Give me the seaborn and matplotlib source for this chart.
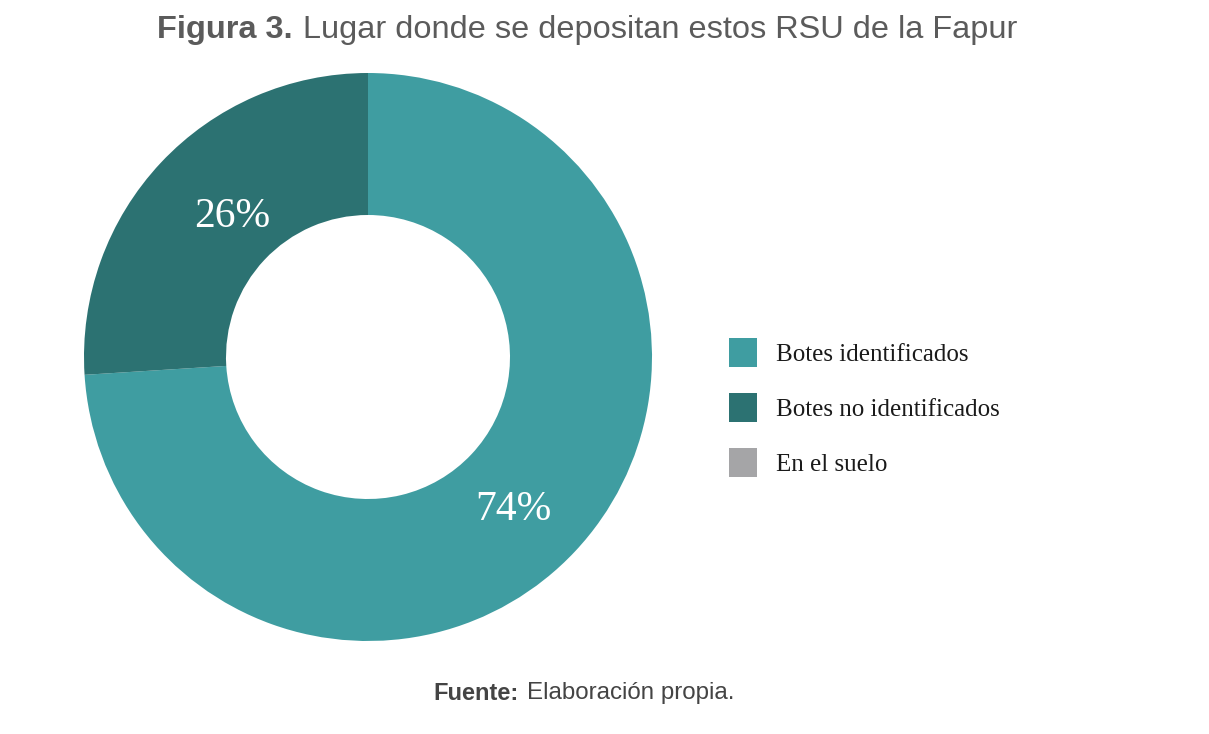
import matplotlib
matplotlib.use("Agg")
import numpy as np
import matplotlib.pyplot as plt
import seaborn as sns

# datos de la figura
categorias = ["Botes identificados", "Botes no identificados", "En el suelo"]
porcentajes = [74, 26, 0]
colores = ["#3f9da1", "#2c7272", "#a5a5a7"]

titulo_negrita = "Figura 3."
titulo_resto = "Lugar donde se depositan estos RSU de la Fapur"
fuente_negrita = "Fuente:"
fuente_resto = "Elaboración propia."

sns.set_theme(style="white")
plt.rcParams["font.family"] = ["Liberation Sans", "DejaVu Sans"]

fig = plt.figure(figsize=(12.09, 7.34), dpi=100)
fig.patch.set_facecolor("white")

# ejes cuadrados para la dona
W, H = 1209, 734
cx, cy, r = 368, 357, 284
ax = fig.add_axes([(cx - r) / W, (H - cy - r) / H, 2 * r / W, 2 * r / H])

pal = sns.color_palette(colores)
wedges, textos, autotextos = ax.pie(
    porcentajes, colors=pal, startangle=90, counterclock=False,
    radius=1, wedgeprops=dict(width=0.5, linewidth=0),
    autopct=lambda p: f"{p:.0f}%" if p > 0.5 else "",
    pctdistance=0.715,
)
# las etiquetas van un poco giradas y desplazadas respecto al centro del sector
giro = np.deg2rad(-3.0)
dx, dy = 5 / r, -6.5 / r
for t in autotextos:
    t.set_color("white")
    t.set_fontsize(30)
    t.set_family(["Liberation Serif", "DejaVu Serif"])
    x, y = t.get_position()
    t.set_position((x * np.cos(giro) - y * np.sin(giro) + dx,
                    x * np.sin(giro) + y * np.cos(giro) + dy))
ax.set_xlim(-1, 1)
ax.set_ylim(-1, 1)
ax.set_aspect("equal")
ax.axis("off")

# leyenda
leg = fig.legend(
    wedges, categorias, loc="upper left",
    bbox_to_anchor=(729 / W, 1 - 338 / H), frameon=False,
    prop=dict(family=["Liberation Serif", "DejaVu Serif"], size=18),
    handlelength=1.12, handleheight=1.4, handletextpad=0.75,
    labelspacing=1.05, borderpad=0, borderaxespad=0,
)
for txt in leg.get_texts():
    txt.set_color("#1a1a1a")

# titulo
gris = "#5b5b5b"
fig.text(293 / W, 1 - 30 / H, titulo_negrita, ha="right", va="center",
         fontsize=23.4, fontweight="bold", color=gris)
fig.text(303 / W, 1 - 30 / H, titulo_resto, ha="left", va="center",
         fontsize=23.4, color=gris)

# fuente
fig.text(519 / W, 1 - 693 / H, fuente_negrita, ha="right", va="center",
         fontsize=17, fontweight="bold", color="#444444")
fig.text(527 / W, 1 - 693 / H, fuente_resto, ha="left", va="center",
         fontsize=17.4, color="#444444")

fig.savefig("out.png", dpi=100, facecolor="white")
